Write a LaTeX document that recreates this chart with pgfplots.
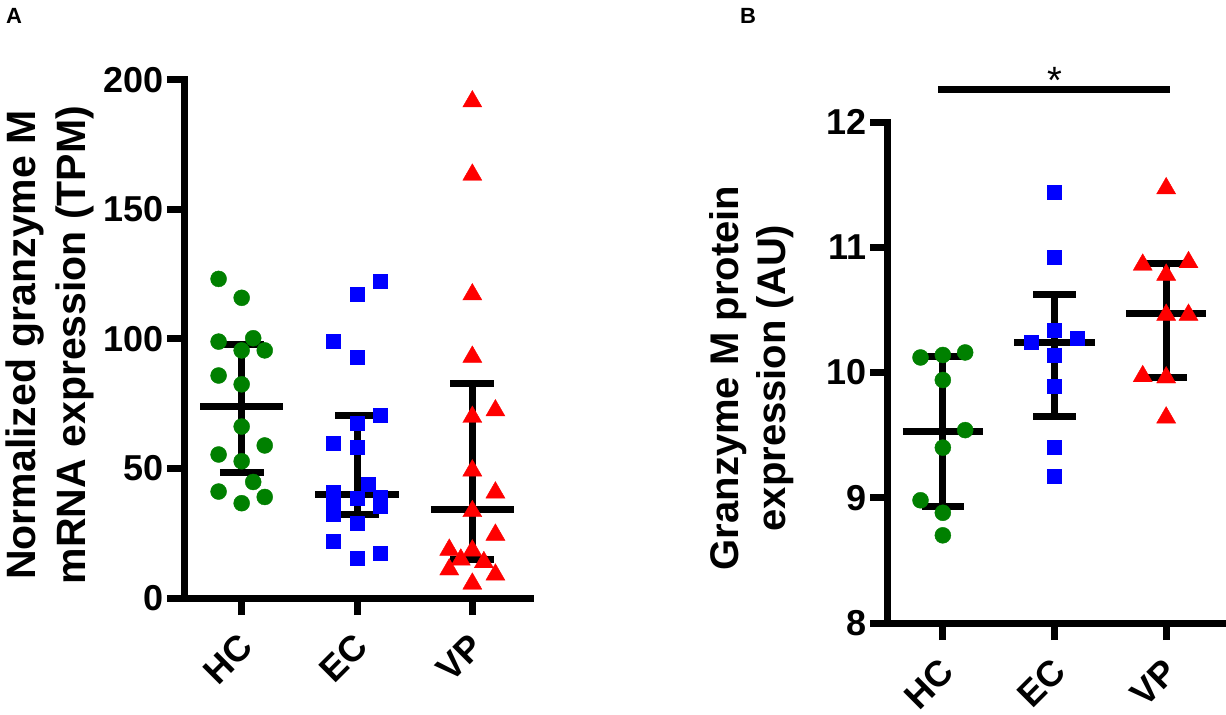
\documentclass[border=0pt]{standalone}
\usepackage{fontspec}
\setmainfont{Liberation Sans}
\usepackage{pgfplots}
\pgfplotsset{compat=1.18}
\definecolor{cgreen}{RGB}{0,128,0}
\definecolor{cblue}{RGB}{0,0,255}
\definecolor{cred}{RGB}{255,0,0}
\pgfplotsset{
  gp/.style={
    scale only axis, axis lines=left,
    axis line style={-, line width=7pt, line cap=rect},
    tick style={line width=7pt, black}, major tick length=17pt, tick align=outside,
    xtick={0,1,2}, xticklabels={HC,EC,VP}, xmin=-0.5, xmax=2.5,
    minor tick num=0, clip=false,
    /pgf/number format/assume math mode=true,
    ticklabel style={font=\fontsize{36}{40}\selectfont\bfseries},
    xticklabel shift=24pt,
    xticklabel style={xshift=6pt, rotate=45, anchor=east, inner sep=2pt},
  },
  bar/.style={black, line width=7pt, line cap=butt},
  g/.style={only marks, mark=*, mark size=8pt, color=cgreen},
  b/.style={only marks, mark=square*, mark size=7pt, color=cblue},
  r/.style={only marks, mark=triangle*, mark size=11pt, color=cred},
}
\begin{document}
\begin{tikzpicture}[x=1pt,y=1pt]
\path (0,0) rectangle (1226,712);
% ---------------- Panel A ----------------
\begin{axis}[gp, at={(184pt,114pt)}, anchor=south west, width=346pt, height=518pt,
  ymin=0, ymax=200, ytick={0,50,100,150,200}]
% HC
\addplot[bar] coordinates {(-0.36,74.1) (0.36,74.1)};
\addplot[bar] coordinates {(-0.19,97.7) (0.19,97.7)};
\addplot[bar] coordinates {(-0.19,48.3) (0.19,48.3)};
\addplot[bar] coordinates {(0,48.3) (0,97.7)};
% EC
\addplot[bar] coordinates {(0.64,40.0) (1.36,40.0)};
\addplot[bar] coordinates {(0.81,70.6) (1.19,70.6)};
\addplot[bar] coordinates {(0.81,32.1) (1.19,32.1)};
\addplot[bar] coordinates {(1,32.1) (1,70.6)};
% VP
\addplot[bar] coordinates {(1.64,34.2) (2.36,34.2)};
\addplot[bar] coordinates {(1.81,83.0) (2.19,83.0)};
\addplot[bar] coordinates {(1.81,14.8) (2.19,14.8)};
\addplot[bar] coordinates {(2,14.8) (2,83.0)};
\addplot[g] coordinates {
(-0.2,123.2) (0,115.9) (-0.2,99.0) (0.1,100.3) (0.2,95.6) (0,95.6)
(-0.2,85.9) (0,82.5) (0,66.2) (0.2,58.9) (-0.2,55.4) (0,52.8)
(0.1,44.8) (-0.2,41.1) (0.2,39.0) (0,36.6)};
\addplot[b] coordinates {
(1.2,122.3) (1.0,117.2) (0.79,99.3) (1.0,93.1) (1.2,70.6) (1.0,67.6)
(0.79,59.7) (1.0,58.2) (1.1,44.1) (0.79,41.0) (0.79,36.0) (0.79,32.5)
(1.0,38.6) (1.2,39.0) (1.2,35.5) (1.0,29.0) (0.79,22.1) (1.2,17.2) (1.0,15.2)};
\addplot[r] coordinates {
(2,191.7) (2,163.4) (2,117.2) (2,93.1) (2.2,72.4) (2,69.9) (2,49.2)
(2.2,40.7) (2,33.5) (2.2,24.4) (1.8,18.6) (2,18.3) (1.9,14.8) (2.1,13.8)
(1.8,11.0) (2.2,9.0) (2,5.5)};
\end{axis}
% ---------------- Panel B ----------------
\begin{axis}[gp, at={(887pt,89pt)}, anchor=south west, width=335pt, height=501pt,
  ymin=8, ymax=12, ytick={8,9,10,11,12}]
\addplot[bar] coordinates {(-0.36,9.53) (0.36,9.53)};
\addplot[bar] coordinates {(-0.19,10.13) (0.19,10.13)};
\addplot[bar] coordinates {(-0.19,8.93) (0.19,8.93)};
\addplot[bar] coordinates {(0,8.93) (0,10.13)};
\addplot[bar] coordinates {(0.64,10.24) (1.36,10.24)};
\addplot[bar] coordinates {(0.81,10.62) (1.19,10.62)};
\addplot[bar] coordinates {(0.81,9.65) (1.19,9.65)};
\addplot[bar] coordinates {(1,9.65) (1,10.62)};
\addplot[bar] coordinates {(1.64,10.47) (2.36,10.47)};
\addplot[bar] coordinates {(1.81,10.87) (2.19,10.87)};
\addplot[bar] coordinates {(1.81,9.96) (2.19,9.96)};
\addplot[bar] coordinates {(2,9.96) (2,10.87)};
% significance bar
\addplot[bar] coordinates {(-0.04,12.26) (2.03,12.26)};
\node[anchor=base, font=\fontsize{38}{38}\selectfont, inner sep=0pt] at (axis cs:1,12.23) {*};
\addplot[g] coordinates {
(-0.2,10.12) (0,10.14) (0.2,10.16) (0,9.94) (0.2,9.54) (0,9.40)
(-0.2,8.98) (0,8.88) (0,8.70)};
\addplot[b] coordinates {
(1,11.44) (1,10.92) (1,10.34) (0.79,10.24) (1.2,10.27) (1,10.14)
(1,9.89) (1,9.40) (1,9.17)};
\addplot[r] coordinates {
(2,11.47) (1.79,10.86) (2.2,10.88) (2,10.78) (2,10.46) (2.2,10.46)
(1.79,9.97) (2,9.96) (2,9.64)};
\end{axis}
% ---------------- labels ----------------
\node[rotate=90, align=center, font=\fontsize{41}{50}\selectfont\bfseries, inner sep=0pt]
  at (50,367) {Normalized granzyme M\\mRNA expression (TPM)};
\node[rotate=90, align=center, font=\fontsize{40}{47}\selectfont\bfseries, inner sep=0pt]
  at (752,334) {Granzyme M protein\\expression (AU)};
\node[font=\fontsize{22}{22}\selectfont\bfseries] at (14,696) {A};
\node[font=\fontsize{22}{22}\selectfont\bfseries] at (748,696) {B};
\end{tikzpicture}
\end{document}
